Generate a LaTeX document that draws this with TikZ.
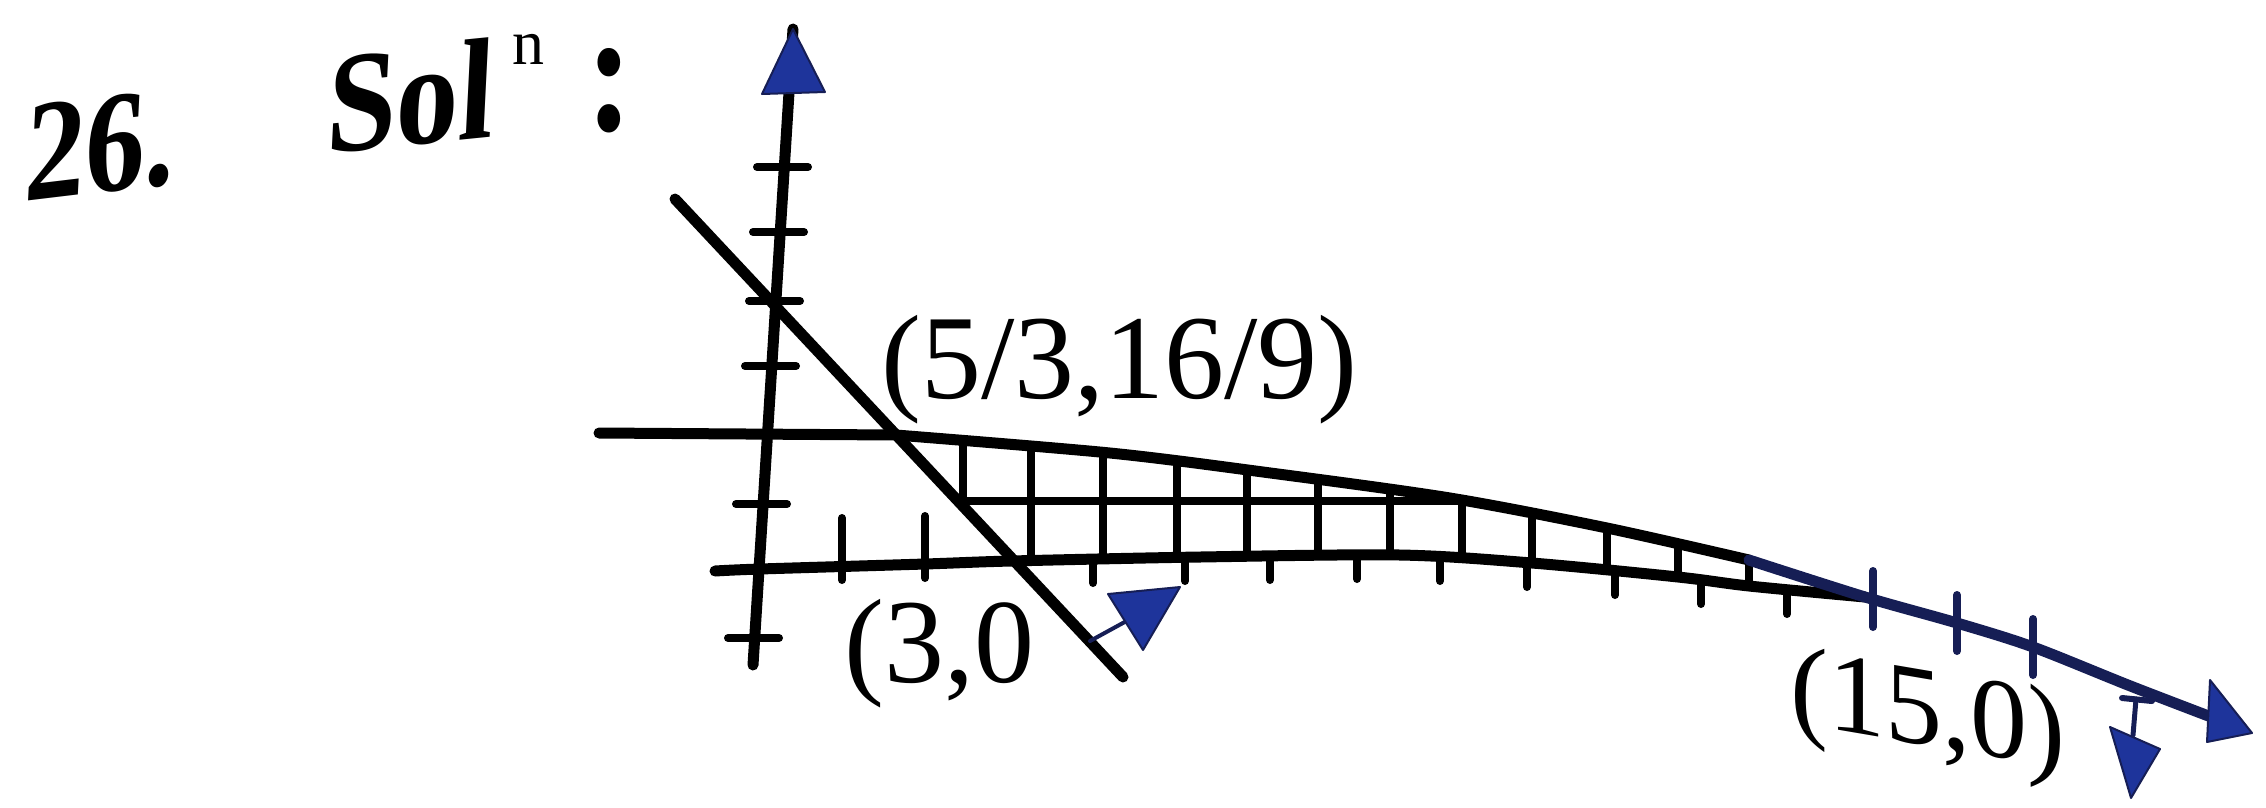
\documentclass[tikz,border=0pt]{standalone}
\usepackage{fontspec}
\setmainfont{Liberation Serif}
\definecolor{arrowblue}{RGB}{30,52,155}
\definecolor{navyline}{RGB}{22,30,85}
\begin{document}
\begin{tikzpicture}[x=1pt,y=-1pt,line cap=round,line join=round,
  axisline/.style={line width=11pt,draw=black},
  gridline/.style={line width=8.5pt,draw=black},
  tickmark/.style={line width=8pt,draw=black},
  headfill/.style={fill=arrowblue,draw=navyline,line width=2pt,line join=round},
  lbl/.style={inner sep=0pt,font=\fontsize{120}{120}\selectfont},
]
\useasboundingbox (0,0) rectangle (2266,807);

% heading
\node[inner sep=0pt,yslant=0.12,xslant=0.05] (num) at (101,146) {\fontsize{120}{120}\selectfont\bfseries\scalebox{1}[1.2]{26.}};
\node[inner sep=0pt,yslant=0.1,xslant=0.05] (sol) at (411,96) {\fontsize{125}{125}\selectfont\bfseries\scalebox{1}[1.15]{Sol}};
\node[inner sep=0pt] (supn) at (528,49) {\fontsize{64}{64}\selectfont n};
\node[inner sep=0pt] (colon) at (610,91) {\fontsize{140}{140}\selectfont\bfseries\scalebox{1}[1.25]{:}};

% key points
\coordinate (ytop) at (793,29);
\coordinate (ybot) at (753,665);
\coordinate (O) at (760,569);
\coordinate (P) at (896,435);
\coordinate (A) at (1011,561);
\coordinate (B) at (1865,597);
\coordinate (sl1) at (675,199);
\coordinate (sl2) at (1123,677);
\coordinate (xleft) at (715,571);
\coordinate (uleft) at (599,433);
\coordinate (xend) at (2240,728);

% hatched grid region
\begin{scope}
\clip (P) -- plot[smooth,tension=0.5] coordinates {(896,435) (1110,453) (1263,472) (1450,498) (1607,528) (1749,560) (1865,597)}
      -- plot[smooth,tension=0.5] coordinates {(1865,597) (1749,586) (1678,577) (1532,563) (1400,555) (1200,557) (1011,561)} -- cycle;
\foreach \gx in {963,1031,1103,1177,1247,1318,1390,1462,1532,1607,1678,1749}
  \draw[gridline] (\gx,400) -- (\gx,640);
\draw[gridline] (930,501) -- (1560,501);
\end{scope}

% y axis
\draw[axisline] (ybot) -- (ytop);
\foreach \ty/\tx in {167/784,232/780,301/776,366/772,504/763,638/755}
  \draw[tickmark] (\tx-27,\ty) -- (\tx+24,\ty);

% x axis (lower boundary)
\draw[axisline] plot[smooth,tension=0.5] coordinates {(715,571) (760,569) (925,564) (1011,561) (1200,557) (1400,555) (1532,563) (1678,577) (1749,586) (1865,597)};
\draw[tickmark] (842,518) -- (842,580);
\draw[tickmark] (925,516) -- (925,578);
\foreach \tx/\ty in {1093/559,1185/557,1270/556,1357/555,1440/557,1527/563,1615/571,1701/580,1787/590}
  \draw[tickmark] (\tx,\ty) -- (\tx,\ty+24);

% upper line and its continuation
\draw[axisline] (uleft) -- plot[smooth,tension=0.5] coordinates {(896,435) (1110,453) (1263,472) (1450,498) (1607,528) (1749,560)};
\draw[axisline,draw=navyline] plot[smooth,tension=0.5] coordinates {(1749,560) (1865,597) (1957,623) (2033,647) (2133,687) (2240,728)};
\foreach \tx/\ty in {1873/599,1957/623,2033/647}
  \draw[tickmark,draw=navyline] (\tx,\ty-28) -- (\tx,\ty+28);

% slanted line
\draw[axisline] (sl1) -- (sl2);

% arrow heads
\fill[headfill] (793,29) -- (762,94) -- (825,92) -- cycle;
\draw[line width=4pt,draw=navyline] (1090,641) -- (1132,618);
\fill[headfill] (1180,587) -- (1108,594) -- (1143,650) -- cycle;
\draw[line width=6pt,draw=navyline] (2122,698) -- (2152,701);
\draw[line width=5pt,draw=navyline] (2136,699) -- (2133,735);
\fill[headfill] (2110,727) -- (2160,749) -- (2131,798) -- cycle;
\fill[headfill] (2252,733) -- (2210,680) -- (2207,742) -- cycle;

% labels
\node[lbl,anchor=base west] (lblP) at (881,398) {(5/3,16/9)};
\node[lbl,anchor=base west] (lblA) at (844,682) {(3,0};
\node[inner sep=0pt,yslant=-0.17,font=\fontsize{114}{114}\selectfont] (lblB) at (1928,718) {(15,0)};
\end{tikzpicture}
\end{document}
